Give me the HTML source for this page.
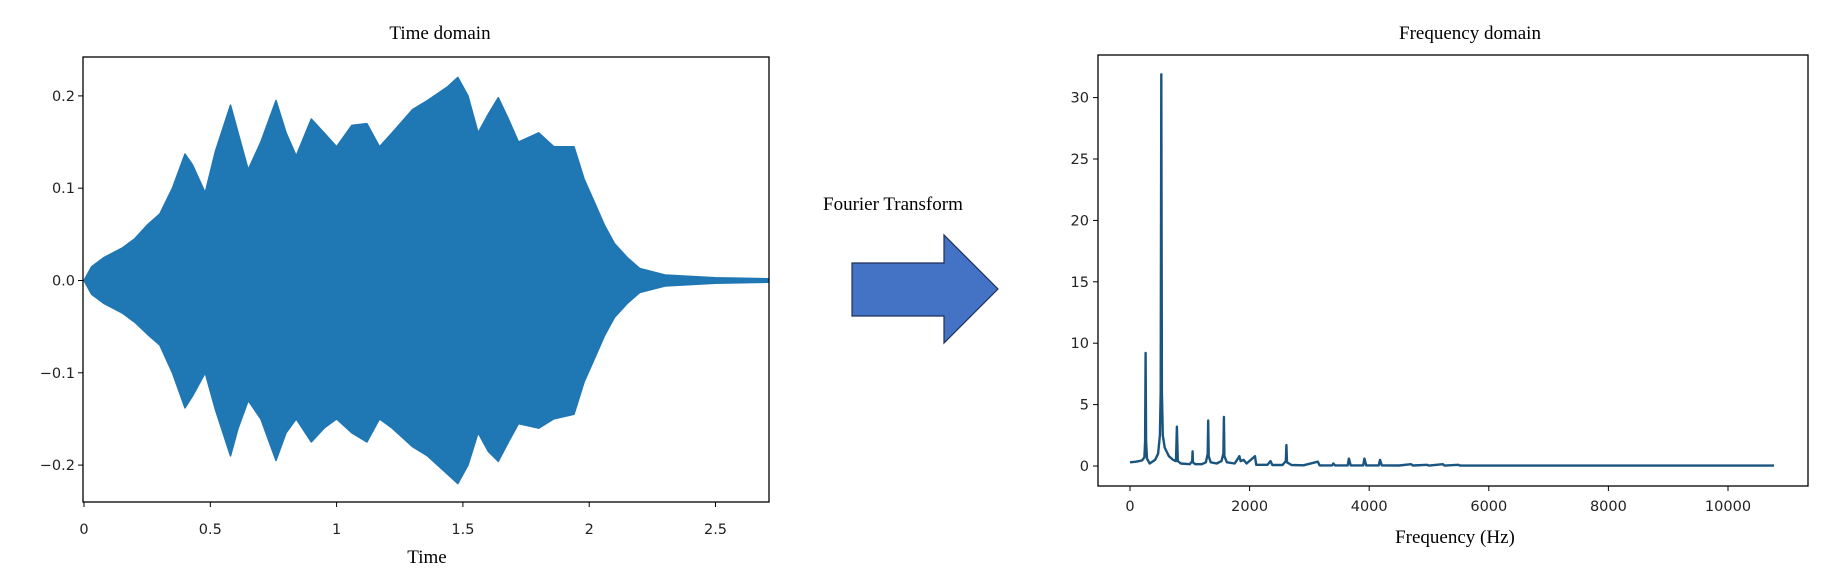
<!DOCTYPE html>
<html><head><meta charset="utf-8">
<style>
html,body{margin:0;padding:0;background:#fff;}
svg{display:block;}
.tk{font-family:"DejaVu Sans","Liberation Sans",sans-serif;font-size:14.5px;fill:#222;}
.ser{font-family:"Liberation Serif",serif;font-size:19px;fill:#000;}
</style></head>
<body>
<svg id="fig" width="1836" height="584" viewBox="0 0 1836 584" xmlns="http://www.w3.org/2000/svg">
<text class="ser" x="440" y="39" text-anchor="middle">Time domain</text>
<text class="ser" x="427" y="563" text-anchor="middle">Time</text>
<text class="ser" x="1470" y="39" text-anchor="middle">Frequency domain</text>
<text class="ser" x="1455" y="543" text-anchor="middle">Frequency (Hz)</text>
<text class="ser" x="823" y="210">Fourier Transform</text>
<polygon points="852,263 944,263 944,235 998,289 944,343 944,316 852,316" fill="#4472c4" stroke="#1f2f5a" stroke-width="1.2"/>
<g id="left"></g>
<g id="right"></g>
</svg>
<script>
// Time-domain envelope data
const tTimes = [0,0.03,0.08,0.15,0.2,0.25,0.3,0.35,0.4,0.43,0.48,0.52,0.58,0.61,0.65,0.7,0.76,0.8,0.84,0.9,0.95,1.0,1.06,1.12,1.17,1.22,1.3,1.36,1.44,1.48,1.52,1.56,1.6,1.64,1.68,1.72,1.8,1.86,1.94,1.98,2.02,2.06,2.1,2.15,2.2,2.3,2.5,2.71];
const tUpper = [0,0.015,0.025,0.035,0.045,0.06,0.072,0.1,0.137,0.125,0.095,0.14,0.19,0.16,0.12,0.15,0.195,0.16,0.135,0.175,0.16,0.145,0.168,0.17,0.145,0.16,0.185,0.195,0.21,0.22,0.2,0.16,0.18,0.198,0.175,0.15,0.16,0.145,0.145,0.11,0.085,0.06,0.04,0.025,0.013,0.006,0.003,0.002];
const tLower = [0,-0.015,-0.025,-0.035,-0.045,-0.058,-0.07,-0.1,-0.138,-0.125,-0.1,-0.14,-0.19,-0.16,-0.13,-0.15,-0.195,-0.165,-0.15,-0.175,-0.16,-0.15,-0.165,-0.175,-0.15,-0.16,-0.18,-0.19,-0.21,-0.22,-0.2,-0.165,-0.185,-0.196,-0.175,-0.155,-0.16,-0.15,-0.145,-0.11,-0.085,-0.06,-0.04,-0.025,-0.013,-0.006,-0.003,-0.002];
const tXTicks = [0,0.5,1,1.5,2,2.5];
const tXLabels = ["0","0.5","1","1.5","2","2.5"];
const tYTicks = [0.2,0.1,0,-0.1,-0.2];
const tYLabels = ["0.2","0.1","0.0","\u22120.1","\u22120.2"];
// Frequency-domain data
const fFreqs = [0,100,200,240,253,261,269,285,330,420,470,500,513,523,533,548,580,650,720,770,785,800,850,1000,1040,1046,1052,1090,1200,1270,1300,1308,1316,1350,1450,1530,1562,1570,1578,1620,1750,1830,1850,1900,1950,2090,2110,2300,2350,2380,2550,2605,2615,2625,2700,2900,3140,3170,3380,3400,3430,3640,3660,3690,3900,3920,3950,4160,4180,4210,4500,4700,4730,4970,5000,5230,5260,5490,5520,6000,8000,10770];
const fAmps = [0.3,0.35,0.45,0.7,2.0,9.2,2.0,0.6,0.2,0.5,1.0,2.5,6,31.9,6,2.5,1.5,0.8,0.5,0.4,3.2,0.4,0.2,0.15,0.4,1.2,0.3,0.15,0.15,0.3,1.0,3.7,0.8,0.3,0.2,0.4,1.0,4.0,0.8,0.3,0.2,0.8,0.4,0.5,0.2,0.8,0.1,0.1,0.4,0.08,0.08,0.4,1.7,0.3,0.08,0.06,0.35,0.05,0.05,0.2,0.05,0.05,0.6,0.05,0.05,0.6,0.05,0.05,0.5,0.05,0.04,0.15,0.04,0.1,0.03,0.15,0.03,0.1,0.03,0.03,0.03,0.03];
const fXTicks = [0,2000,4000,6000,8000,10000];
const fYTicks = [0,5,10,15,20,25,30];

const NS='http://www.w3.org/2000/svg';
function mk(tag, attrs, parent){const e=document.createElementNS(NS,tag);for(const k in attrs)e.setAttribute(k,attrs[k]);parent.appendChild(e);return e;}

// Left axes
const L={x0:83,x1:769,y0:57,y1:502};
const lx=v=>84+v*252.6;
const ly=v=>280.5-v*923;
const left=document.getElementById('left');
let d='M'+lx(tTimes[0])+','+ly(tUpper[0]);
for(let i=1;i<tTimes.length;i++) d+=' L'+lx(tTimes[i]).toFixed(1)+','+ly(tUpper[i]).toFixed(1);
for(let i=tTimes.length-1;i>=0;i--) d+=' L'+lx(tTimes[i]).toFixed(1)+','+ly(tLower[i]).toFixed(1);
const wave=mk('path',{d:d+'Z',fill:'#1f77b4',stroke:'#1f77b4','stroke-width':1.5,'stroke-linejoin':'round'},left);


const lf=mk('rect',{x:L.x0,y:L.y0,width:L.x1-L.x0,height:L.y1-L.y0,fill:'none',stroke:'#000','stroke-width':1.3},left);


tXTicks.forEach((v,i)=>{
  mk('line',{x1:lx(v),x2:lx(v),y1:L.y1,y2:L.y1+5,stroke:'#000'},left);
  const t=mk('text',{x:lx(v),y:534,'text-anchor':'middle',class:'tk'},left);t.textContent=tXLabels[i];
  
  
});
tYTicks.forEach((v,i)=>{
  mk('line',{x1:L.x0-5,x2:L.x0,y1:ly(v),y2:ly(v),stroke:'#000'},left);
  const t=mk('text',{x:L.x0-8,y:ly(v)+5,'text-anchor':'end',class:'tk'},left);t.textContent=tYLabels[i];
  
  
});

// Right axes
const R={x0:1098,x1:1808,y0:55,y1:486};
const rx=v=>1130+v*0.0598;
const ry=v=>466-v*12.28;
const right=document.getElementById('right');
let p='';
fFreqs.forEach((f,i)=>{p+=(i?' L':'M')+rx(f).toFixed(1)+','+ry(fAmps[i]).toFixed(1);});
const spec=mk('path',{d:p,fill:'none',stroke:'#1a5580','stroke-width':2.4,'stroke-linejoin':'round'},right);


const rf=mk('rect',{x:R.x0,y:R.y0,width:R.x1-R.x0,height:R.y1-R.y0,fill:'none',stroke:'#000','stroke-width':1.3},right);


fXTicks.forEach(v=>{
  mk('line',{x1:rx(v),x2:rx(v),y1:R.y1,y2:R.y1+5,stroke:'#000'},right);
  const t=mk('text',{x:rx(v),y:511,'text-anchor':'middle',class:'tk'},right);t.textContent=String(v);
  
  
});
fYTicks.forEach(v=>{
  mk('line',{x1:R.x0-5,x2:R.x0,y1:ry(v),y2:ry(v),stroke:'#000'},right);
  const t=mk('text',{x:R.x0-9,y:ry(v)+5,'text-anchor':'end',class:'tk'},right);t.textContent=String(v);
  
  
});
</script>
</body></html>
